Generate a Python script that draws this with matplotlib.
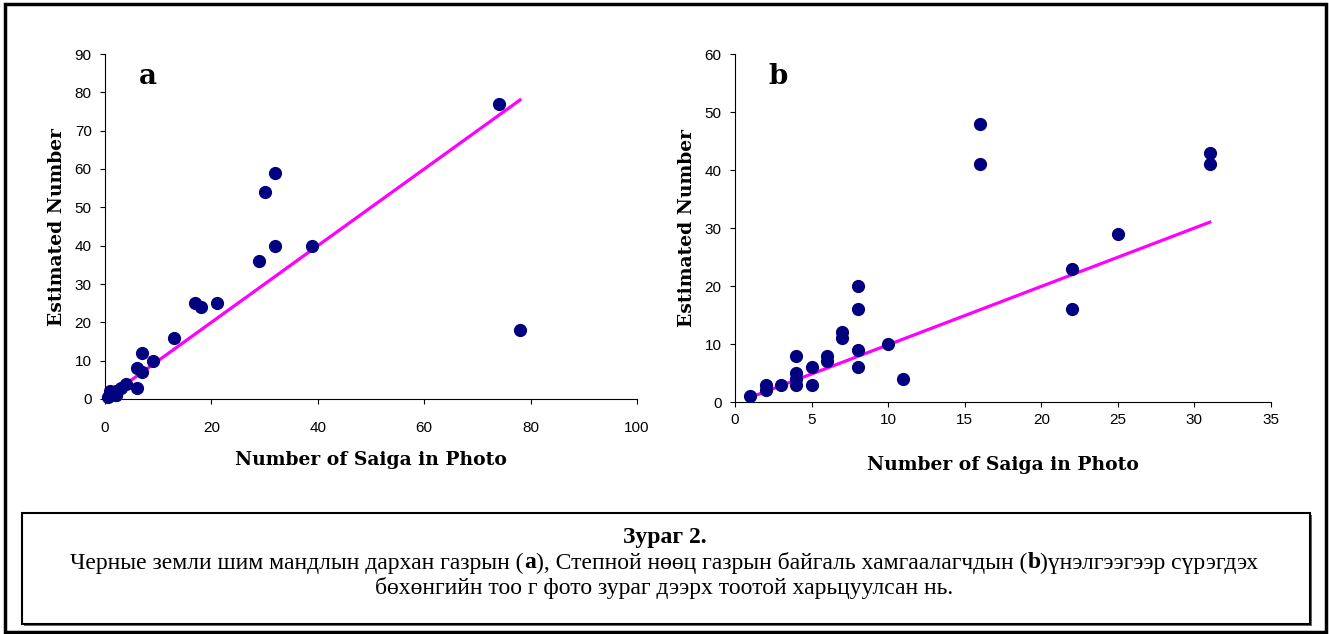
import matplotlib.pyplot as plt
from matplotlib.patches import Rectangle

# panel a: photo count vs estimated number
a_photo = [74, 32, 30, 32, 39, 29, 17, 18, 21, 13, 7, 9, 6, 7, 6, 4, 3, 2, 1, 2, 1, 0.5, 2, 78]
a_est = [77, 59, 54, 40, 40, 36, 25, 24, 25, 16, 12, 10, 8, 7, 3, 4, 3, 2, 2, 1, 1, 0.5, 1, 18]
a_fit_x = [3, 78]
a_fit_y = [3, 78]

# panel b
b_photo = [1, 2, 2, 3, 4, 4, 4, 4, 5, 5, 6, 6, 7, 7, 8, 8, 8, 8, 10, 11, 16, 16, 22, 22, 25, 31, 31]
b_est = [1, 3, 2, 3, 8, 5, 4, 3, 6, 3, 8, 7, 12, 11, 20, 16, 9, 6, 10, 4, 48, 41, 23, 16, 29, 43, 41]
b_fit_x = [1, 31]
b_fit_y = [0.8, 31]

xlabel = 'Number of Saiga in Photo'
ylabel = 'Estimated Number'
caption_title = 'Зураг 2.'

W, H = 1329, 634
fig = plt.figure(figsize=(W / 100, H / 100), dpi=100)

def px_axes(l, t, r, b):
    return fig.add_axes([l / W, 1 - b / H, (r - l) / W, (b - t) / H])

label_font = dict(family='DejaVu Serif', weight='bold', fontsize=13.5)

def panel(ax, x, y, fx, fy, xmax, xstep, ymax, ystep, tag, xpad, xlpad):
    ax.plot(fx, fy, color='#FF00FF', lw=2.3, zorder=2)
    ax.scatter(x, y, s=72, color='#000080', zorder=3, clip_on=False)
    ax.set_xlim(0, xmax)
    ax.set_ylim(0, ymax)
    ax.set_xticks(range(0, xmax + 1, xstep))
    ax.set_yticks(range(0, ymax + 1, ystep))
    for s in ['top', 'right']:
        ax.spines[s].set_visible(False)
    for s in ['left', 'bottom']:
        ax.spines[s].set_linewidth(0.8)
    ax.tick_params(direction='out', length=3.6, width=0.8, labelsize=11)
    ax.tick_params(axis='y', pad=6)
    ax.tick_params(axis='x', pad=xpad)
    for t in ax.get_xticklabels() + ax.get_yticklabels():
        t.set_family('Liberation Sans')
    ax.set_xlabel(xlabel, labelpad=xlpad, **label_font)
    ax.set_ylabel(ylabel, labelpad=6, **label_font)
    ax.text(0.063, 0.935, tag, transform=ax.transAxes, fontsize=20,
            family='DejaVu Serif', weight='bold', va='center')

ax_a = px_axes(105, 54, 637, 399)
panel(ax_a, a_photo, a_est, a_fit_x, a_fit_y, 100, 20, 90, 10, 'a', 12, 12)

ax_b = px_axes(735, 54, 1271, 402)
panel(ax_b, b_photo, b_est, b_fit_x, b_fit_y, 35, 5, 60, 10, 'b', 4, 21)

# outer frame
fig.patches.append(Rectangle((5 / W, 2 / H), (W - 8) / W, (H - 6) / H,
                             transform=fig.transFigure, fill=False,
                             edgecolor='black', lw=2.5))
# caption box with shadow
fig.patches.append(Rectangle((24 / W, 1 - 626 / H), 1288 / W, 111 / H,
                             transform=fig.transFigure, fill=True,
                             facecolor='#666666', edgecolor='none'))
fig.patches.append(Rectangle((22 / W, 1 - 624 / H), 1288 / W, 111 / H,
                             transform=fig.transFigure, fill=True,
                             facecolor='white', edgecolor='black', lw=1.5))

fig.text(0.5, 1 - 537 / H, caption_title, ha='center', va='center',
         family='Liberation Serif', weight='bold', fontsize=17)
line1 = [('Черные земли шим мандлын дархан газрын (', 'normal'), ('a', 'bold'),
         ('), Степной нөөц газрын байгаль хамгаалагчдын (', 'normal'), ('b', 'bold'),
         (')үнэлгээгээр сүрэгдэх', 'normal')]
fig.canvas.draw()
renderer = fig.canvas.get_renderer()
# measure widths to center the mixed-weight line
texts = []
for s, w in line1:
    t = fig.text(0, 1 - 563 / H, s, ha='left', va='center',
                 family='Liberation Serif', weight=w, fontsize=17)
    texts.append(t)
widths = [t.get_window_extent(renderer).width for t in texts]
x0 = (W - sum(widths)) / 2
for t, w in zip(texts, widths):
    t.set_x(x0 / W)
    x0 += w
fig.text(0.5, 1 - 588 / H, 'бөхөнгийн тоо г фото зураг дээрх тоотой харьцуулсан нь.',
         ha='center', va='center', family='Liberation Serif', fontsize=17)

fig.savefig('out.png', dpi=100)
